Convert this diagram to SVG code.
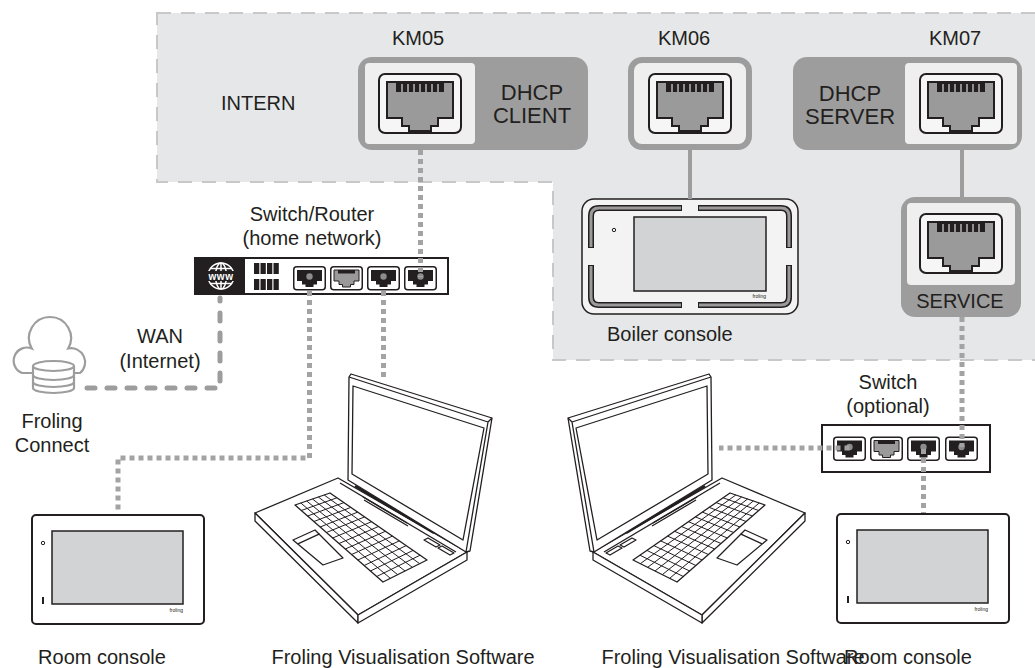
<svg xmlns="http://www.w3.org/2000/svg" xmlns:xlink="http://www.w3.org/1999/xlink" width="1035" height="668" viewBox="0 0 1035 668">
<style>
text{font-family:"Liberation Sans",Arial,sans-serif;fill:#231f20}
.lbl{font-size:20px}
.mid{text-anchor:middle}
.dhcp{font-size:22px;text-anchor:middle}
.ln{fill:none;stroke:#231f20;stroke-width:1.3;stroke-linejoin:round}
.dot{fill:none;stroke:#a3a3a3;stroke-width:5;stroke-dasharray:5 4}
.solid{fill:none;stroke:#9d9d9d;stroke-width:4}
.wan{fill:none;stroke:#9d9d9d;stroke-width:5;stroke-dasharray:8 12;stroke-linecap:round}
.tiny{font-size:5px;text-anchor:end}
.frame{fill:#9d9d9d}
.inner{fill:#efefef}
</style>
<defs>
  <!-- RJ45 socket, 84 x 61 -->
  <g id="rj45">
    <rect x="1" y="1" width="82" height="59" rx="6" fill="#f6f6f6" stroke="#231f20" stroke-width="2"/>
    <path d="M9,9 H75 V45 H60 V53 H53 V58 H31 V53 H24 V45 H9 Z" fill="#9a9a9a" stroke="#231f20" stroke-width="2"/>
    <rect x="18" y="9" width="48" height="10" fill="#231f20"/>
    <path d="M24,11V19 M30,11V19 M36,11V19 M42,11V19 M48,11V19 M54,11V19 M60,11V19" stroke="#fff" stroke-width="1"/>
  </g>
  <!-- small switch port with plug inserted -->
  <g id="portDark">
    <rect x="0.75" y="0.75" width="31.5" height="23" rx="3" fill="#fff" stroke="#231f20" stroke-width="1.5"/>
    <path d="M4,4 H29 V15 H24 V18.5 H20.5 V21 H12.5 V18.5 H9 V15 H4 Z" fill="#231f20"/>
    <circle cx="16.5" cy="10.5" r="3.2" fill="#8c8c8c"/>
  </g>
  <!-- small empty switch port -->
  <g id="portEmpty">
    <rect x="0.75" y="0.75" width="31.5" height="23" rx="3" fill="#fff" stroke="#231f20" stroke-width="1.5"/>
    <path d="M4,4 H29 V15 H24 V18.5 H20.5 V21 H12.5 V18.5 H9 V15 H4 Z" fill="#9a9a9a" stroke="#231f20" stroke-width="1"/>
    <rect x="8" y="4" width="17" height="3.5" fill="#231f20"/>
  </g>
  <!-- wall-mounted room console, 172 x 109 -->
  <g id="roomConsole">
    <rect x="0" y="0" width="172" height="109" rx="4" fill="#fff" stroke="#231f20" stroke-width="2"/>
    <rect x="20" y="16" width="131" height="73" fill="#d1d3d4" stroke="#231f20" stroke-width="1.5"/>
    <circle cx="11" cy="28" r="1.7" fill="none" stroke="#231f20" stroke-width="1"/>
    <rect x="10" y="82" width="2" height="7" fill="#231f20"/>
    <text x="151" y="97" class="tiny">froling</text>
  </g>
  <!-- notebook line drawing -->
  <g id="laptop" class="ln">
    <path d="M255,513 L338,478 L467,552 L358,615 Z" fill="#fff"/>
    <path d="M255,513 L358,615 L358,623 L255,521 Z" fill="#fff"/>
    <path d="M358,615 L467,552 L467,560 L358,623 Z" fill="#fff"/>
    <path d="M340,483 L456,552"/>
    <path d="M355,486 L434,533" stroke-width="2.6"/>
    <path d="M363,497 L407,523 M364,500 L408,526"/>
    <path d="M428,538 L440,545 L436,547 L424,540 Z M442,546 L454,553 L450,555 L438,548 Z"/>
    <path d="M330,493 L427,560 L383,582 L295,505 Z"/>
    <path d="M324.2,495 L419.7,563.7 M318.3,497 L412.3,567.3 M312.5,499 L405,571 M306.7,501 L397.7,574.7 M300.8,503 L390.3,578.3" stroke-width="1"/>
    <path d="M336.9,497.8 L301.3,510.5 M343.9,502.6 L307.6,516 M350.8,507.4 L313.9,521.5 M357.7,512.1 L320.1,527 M364.6,516.9 L326.4,532.5 M371.6,521.7 L332.7,538 M378.5,526.5 L339,543.5 M385.4,531.3 L345.3,549 M392.4,536.1 L351.6,554.5 M399.3,540.9 L357.9,560 M406.2,545.6 L364.1,565.5 M413.1,550.4 L370.4,571 M420.1,555.2 L376.7,576.5" stroke-width="1"/>
    <path d="M293,540 L315,530 L343,558 L323,565 Z"/>
    <path d="M297.9,543.8 L319.6,533.8"/>
    <path d="M351,374 L492,418 L470,551 L466,552 L348,480 L349,377 Z" fill="#fff"/>
    <path d="M349,377 L488,422 L466,552 M488,422 L492,418"/>
    <path d="M353,386 L484,428 L463,540 L352,474 Z"/>
  </g>
</defs>

<!-- internal area of the boiler -->
<g id="intern-area">
  <path d="M157,13 H1040 V360 H553 V182 H157 Z" fill="#e6e7e8" stroke="#c8c8c8" stroke-width="2" stroke-dasharray="14 10"/>
  <text x="221" y="110" class="lbl">INTERN</text>
</g>

<!-- KM05: DHCP client port -->
<g id="km05">
  <text x="418" y="45" class="lbl mid">KM05</text>
  <rect x="358" y="57" width="230" height="93" rx="14" class="frame"/>
  <rect x="365" y="63" width="110" height="81" rx="4" class="inner"/>
  <use xlink:href="#rj45" x="378" y="73"/>
  <text x="532" y="100" class="dhcp">DHCP</text>
  <text x="532" y="123" class="dhcp">CLIENT</text>
</g>

<!-- KM06: boiler console port -->
<g id="km06">
  <text x="684" y="45" class="lbl mid">KM06</text>
  <rect x="631" y="60" width="118" height="87" rx="11" fill="#efefef" stroke="#9d9d9d" stroke-width="6"/>
  <use xlink:href="#rj45" x="648" y="73"/>
</g>

<!-- KM07: DHCP server port -->
<g id="km07">
  <text x="955" y="45" class="lbl mid">KM07</text>
  <rect x="793" y="57" width="229" height="93" rx="14" class="frame"/>
  <rect x="905" y="63" width="112" height="81" rx="4" class="inner"/>
  <use xlink:href="#rj45" x="919" y="73"/>
  <text x="850" y="101" class="dhcp">DHCP</text>
  <text x="850" y="124" class="dhcp">SERVER</text>
</g>

<!-- service port -->
<g id="service">
  <rect x="901" y="197" width="120" height="120" rx="14" class="frame"/>
  <rect x="907" y="203" width="108" height="82" rx="4" class="inner"/>
  <use xlink:href="#rj45" x="919" y="213"/>
  <text x="960" y="308" class="lbl mid">SERVICE</text>
</g>

<!-- boiler console -->
<g id="boiler-console">
  <rect x="582" y="199" width="216" height="115" rx="12" fill="#f3f3f3" stroke="#231f20" stroke-width="1.5"/>
  <g fill="none" stroke-linejoin="round">
    <path d="M682,208 H599 Q591,208 591,216 V248 M591,265 V297 Q591,305 599,305 H682 M698,208 H781 Q789,208 789,216 V248 M789,265 V297 Q789,305 781,305 H698" stroke="#231f20" stroke-width="6"/>
    <path d="M681,208 H599 Q591,208 591,216 V247 M591,266 V297 Q591,305 599,305 H681 M699,208 H781 Q789,208 789,216 V247 M789,266 V297 Q789,305 781,305 H699" stroke="#9a9a9a" stroke-width="3"/>
  </g>
  <rect x="634" y="217" width="132" height="74" fill="#d1d3d4" stroke="#231f20" stroke-width="1.5"/>
  <circle cx="614" cy="230" r="1.7" fill="none" stroke="#231f20" stroke-width="1"/>
  <text x="766" y="298" class="tiny">froling</text>
  <text x="607" y="341" class="lbl">Boiler console</text>
</g>

<!-- home network switch / router -->
<g id="router">
  <text x="312" y="221" class="lbl mid">Switch/Router</text>
  <text x="312" y="245" class="lbl mid">(home network)</text>
  <rect x="195" y="258" width="253" height="36" fill="#fff" stroke="#231f20" stroke-width="2"/>
  <rect x="195" y="258" width="50" height="36" fill="#231f20"/>
  <g stroke="#fff" stroke-width="1.5" fill="none">
    <circle cx="221" cy="276" r="13"/>
    <ellipse cx="221" cy="276" rx="5.5" ry="13"/>
    <line x1="221" y1="263" x2="221" y2="289"/>
    <line x1="210" y1="268.5" x2="232" y2="268.5"/>
    <line x1="210" y1="283.5" x2="232" y2="283.5"/>
  </g>
  <rect x="203" y="271" width="36" height="10" fill="#231f20"/>
  <text x="221" y="280" font-size="10" font-weight="bold" letter-spacing="0.5" text-anchor="middle" style="fill:#fff">www</text>
  <g fill="#231f20">
    <rect x="254" y="263" width="5.3" height="11"/>
    <rect x="260.5" y="263" width="5.3" height="11"/>
    <rect x="267" y="263" width="5.3" height="11"/>
    <rect x="273.5" y="263" width="5.3" height="11"/>
    <rect x="254" y="279" width="5.3" height="11"/>
    <rect x="260.5" y="279" width="5.3" height="11"/>
    <rect x="267" y="279" width="5.3" height="11"/>
    <rect x="273.5" y="279" width="5.3" height="11"/>
  </g>
  <use xlink:href="#portDark" x="293" y="266"/>
  <use xlink:href="#portEmpty" x="330" y="266"/>
  <use xlink:href="#portDark" x="367" y="266"/>
  <use xlink:href="#portDark" x="404" y="266"/>
</g>

<!-- Froling Connect cloud -->
<g id="cloud">
  <path d="M33,373 H22 A13,13 0 0 1 31.8,348.5 A21,21 0 1 1 68.2,348.5 A14,14 0 0 1 80,373 H74" fill="none" stroke="#9d9d9d" stroke-width="2.2"/>
  <g fill="#fff" stroke="#9d9d9d" stroke-width="2.2">
    <path d="M33,366 V388 A20.5,5 0 0 0 74,388 V366"/>
    <ellipse cx="53.5" cy="366" rx="20.5" ry="5"/>
    <path d="M33,375 A20.5,5 0 0 0 74,375 M33,382 A20.5,5 0 0 0 74,382" fill="none"/>
  </g>
  <text x="160" y="343" class="lbl mid">WAN</text>
  <text x="160" y="368" class="lbl mid">(Internet)</text>
  <text x="52" y="428" class="lbl mid">Froling</text>
  <text x="52" y="452" class="lbl mid">Connect</text>
</g>

<!-- optional switch -->
<g id="switch">
  <text x="888" y="389" class="lbl mid">Switch</text>
  <text x="888" y="413" class="lbl mid">(optional)</text>
  <rect x="822" y="425" width="168" height="47" fill="#fff" stroke="#231f20" stroke-width="2"/>
  <use xlink:href="#portDark" x="833" y="436.5"/>
  <use xlink:href="#portEmpty" x="870" y="436.5"/>
  <use xlink:href="#portDark" x="907" y="436.5"/>
  <use xlink:href="#portDark" x="945" y="436.5"/>
</g>

<!-- room consoles -->
<g id="room-console-1">
  <use xlink:href="#roomConsole" x="32" y="515"/>
  <text x="102" y="664" class="lbl mid">Room console</text>
</g>
<g id="room-console-2">
  <use xlink:href="#roomConsole" x="837" y="514"/>
  <text x="908" y="664" class="lbl mid">Room console</text>
</g>

<!-- notebooks running the visualisation software -->
<g id="laptop-1">
  <use xlink:href="#laptop"/>
  <text x="403" y="664" class="lbl mid">Froling Visualisation Software</text>
</g>
<g id="laptop-2">
  <use xlink:href="#laptop" transform="matrix(-1 0 0 1 1060 0)"/>
  <text x="733" y="664" class="lbl mid">Froling Visualisation Software</text>
</g>

<!-- cabling -->
<g id="connectors">
  <path class="solid" d="M690,150 V199"/>
  <path class="solid" d="M962,150 V197"/>
  <path class="wan" d="M87,388 H220 V298"/>
  <path class="dot" d="M420.5,150 V277"/>
  <path class="dot" d="M309.5,291 V458 H118 V513"/>
  <path class="dot" d="M383.5,291 V377"/>
  <path class="dot" d="M962,317 V447"/>
  <path class="dot" d="M849.5,448 H719"/>
  <path class="dot" d="M923.5,449 V513"/>
</g>
</svg>
